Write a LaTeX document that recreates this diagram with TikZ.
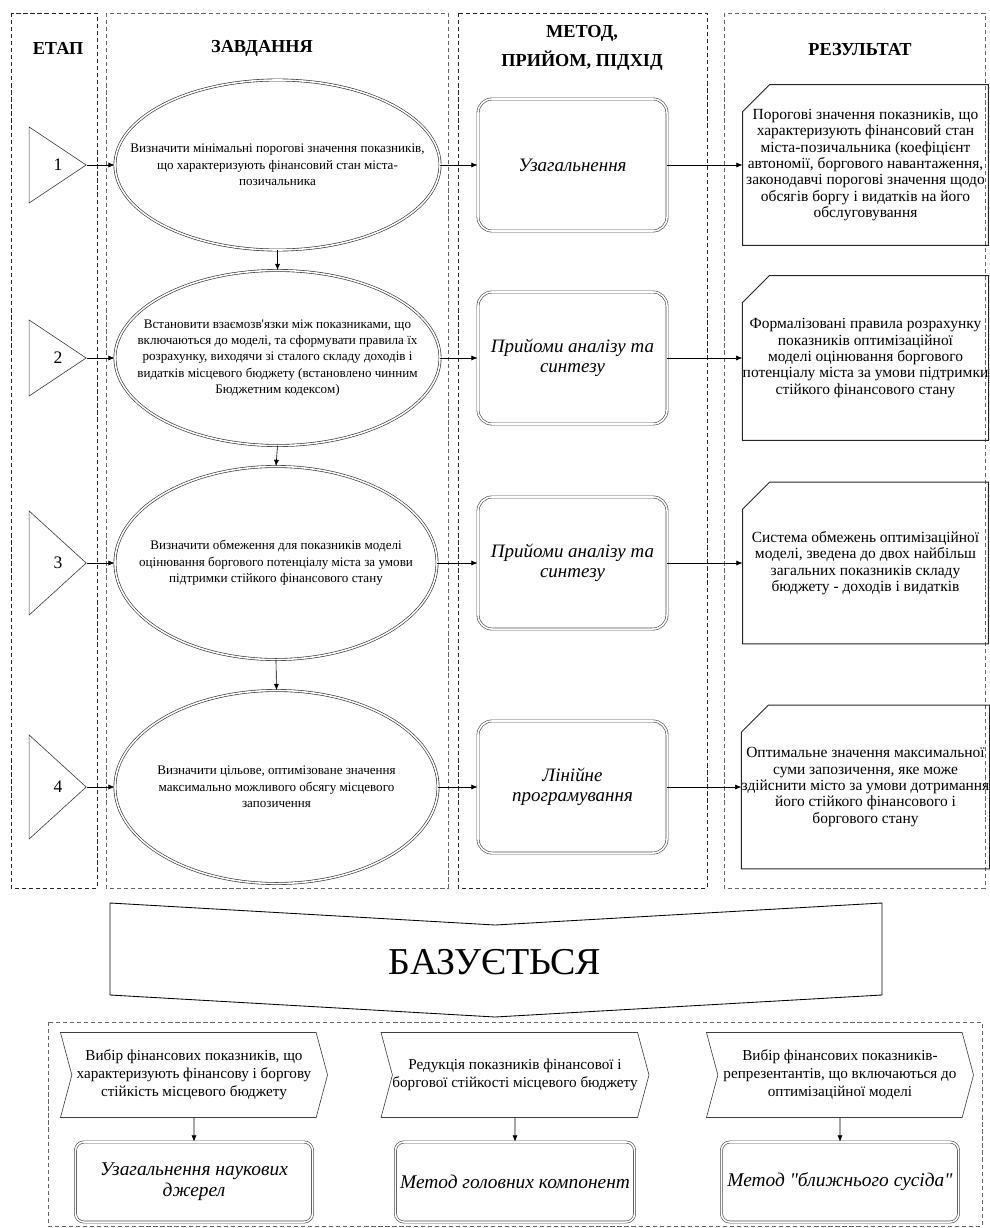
\documentclass[tikz,border=0pt]{standalone}
\usepackage{fontspec}
\setmainfont{Liberation Serif}[Ligatures=TeXOff]
\usetikzlibrary{arrows.meta,shapes.geometric,shapes.symbols}

\begin{document}
\begin{tikzpicture}[x=0.025cm, y=-0.025cm, >={Latex[length=4.5pt,width=3.6pt]}, line width=0.45pt,
  colframe/.style={densely dashed, draw=black!85},
  head/.style={font=\fontsize{13}{20.5}\selectfont\bfseries, align=center},
  stagetri/.style={isosceles triangle, isosceles triangle stretches, draw=black!75, minimum height=1.425cm, inner sep=0pt, anchor=apex},
  stagenum/.style={font=\fontsize{12.5}{14}\selectfont},
  taskell/.style={ellipse, draw=black!80, double, double distance=1.1pt, minimum width=8.125cm, inner sep=0pt},
  tasktxt/.style={align=center, inner sep=0pt, font=\fontsize{9.3}{11.6}\selectfont},
  methbox/.style={draw=black!70, double, double distance=1.1pt, rounded corners=10pt, minimum width=4.725cm, minimum height=3.3cm, align=center, font=\fontsize{13.5}{14.2}\selectfont\itshape},
  resbox/.style={minimum width=6.125cm, inner sep=0pt, align=center, font=\fontsize{11}{11.6}\selectfont},
  resline/.style={draw=black!85, line width=0.6pt},
  basis/.style={signal, signal from=west, signal to=east, signal pointer angle=150, draw=black!75, minimum width=6.675cm, minimum height=2.125cm, inner sep=0pt, align=center, font=\fontsize{10.8}{12.8}\selectfont},
  basismeth/.style={draw=black!70, double, double distance=1.1pt, rounded corners=6pt, minimum width=5.925cm, minimum height=2cm, align=center, font=\fontsize{13.8}{15}\selectfont\itshape}]

\useasboundingbox (0,0) rectangle (990,1228);
\draw[colframe] (11,13) rectangle (97,888);
\draw[colframe, draw=black!60] (106,13) rectangle (448,888);
\draw[colframe] (458,13) rectangle (707,888);
\draw[colframe, draw=black!60] (724,13) rectangle (985,888);

\node[head] (hstage) at (58,48) {ЕТАП};
\node[head] (htask) at (262,48) {ЗАВДАННЯ};
\node[head] (hmeth) at (582,48) {МЕТОД,\\ПРИЙОМ, ПІДХІД};
\node[head] (hres) at (860,50) {РЕЗУЛЬТАТ};

\foreach \i/\y/\h in {1/165/1.9, 2/358/1.9, 3/563/2.6, 4/787/2.6} {
  \node[stagetri, minimum width=\h cm] (s\i) at (87,\y) {};
  \node[stagenum] (s\i n) at (58,\y) {\i};
}

\node[taskell, minimum height=4.25cm] (e1) at (277.5,165) {};
\node[taskell, minimum height=4.375cm] (e2) at (277.5,358) {};
\node[taskell, minimum height=4.825cm, minimum width=8.05cm] (e3) at (276,563) {};
\node[taskell, minimum height=4.825cm, minimum width=8.075cm] (e4) at (276.5,787) {};
\node[tasktxt] (e1t) at (e1) {Визначити мінімальні порогові значення показників,\\що характеризують фінансовий стан міста-\\позичальника};
\node[tasktxt] (e2t) at (e2) {Встановити взаємозв'язки між показниками, що\\включаються до моделі, та сформувати правила їх\\розрахунку, виходячи зі сталого складу доходів і\\видатків місцевого бюджету (встановлено чинним\\Бюджетним кодексом)};
\node[tasktxt] (e3t) at (e3) {Визначити обмеження для показників моделі\\оцінювання боргового потенціалу міста за умови\\підтримки стійкого фінансового стану};
\node[tasktxt] (e4t) at (e4) {Визначити цільове, оптимізоване значення\\максимально можливого обсягу місцевого\\запозичення};

\node[methbox] (m1) at (572.5,165) {Узагальнення};
\node[methbox] (m2) at (572.5,358) {Прийоми аналізу та\\синтезу};
\node[methbox] (m3) at (572.5,563) {Прийоми аналізу та\\синтезу};
\node[methbox] (m4) at (572.5,787) {Лінійне\\програмування};

\node[resbox, minimum height=4cm] (r1) at (865.5,165) {Порогові значення показників, що\\характеризують фінансовий стан\\міста-позичальника (коефіцієнт\\автономії, боргового навантаження,\\законодавчі порогові значення щодо\\обсягів боргу і видатків на його\\обслуговування};
\node[resbox, minimum height=4.1cm] (r2) at (865.5,358) {Формалізовані правила розрахунку\\показників оптимізаційної\\моделі оцінювання боргового\\потенціалу міста за умови підтримки\\стійкого фінансового стану};
\node[resbox, minimum height=4.025cm] (r3) at (865.5,563) {Система обмежень оптимізаційної\\моделі, зведена до двох найбільш\\загальних показників складу\\бюджету - доходів і видатків};
\node[resbox, minimum height=4.075cm] (r4) at (865.5,787) {Оптимальне значення максимальної\\суми запозичення, яке може\\здійснити місто за умови дотримання\\його стійкого фінансового і\\боргового стану};
\foreach \r in {r1,r2,r3,r4}
  \draw[resline] ([yshift=-0.675cm]\r.north west) -- ([xshift=0.675cm]\r.north west) -- (\r.north east) -- (\r.south east) -- (\r.south west) -- cycle;

\draw[->] (s1.apex) -- (e1);\draw[->] (s2.apex) -- (e2);\draw[->] (s3.apex) -- (e3);\draw[->] (s4.apex) -- (e4);
\draw[->] (e1) -- (m1);\draw[->] (e2) -- (m2);\draw[->] (e3) -- (m3);\draw[->] (e4) -- (m4);
\draw[->] (m1) -- (r1);\draw[->] (m2) -- (r2);\draw[->] (m3) -- (r3);\draw[->] (m4) -- (r4);
\draw[->] (e1.south) -- (e2.north);\draw[->] (e2.south) -- (e3.north);\draw[->] (e3.south) -- (e4.north);

\draw[line width=0.6pt] (110,903) -- (495,925) -- (882,903) -- (882,995) -- (495,1017) -- (110,995) -- cycle;
\node[font=\fontsize{27}{30}\selectfont] (baz) at (495,962) {БАЗУЄТЬСЯ};

\draw[colframe, draw=black!60] (48,1022) rectangle (982,1226);
\node[basis] (b1) at (194,1075) {Вибір фінансових показників, що\\характеризують фінансову і боргову\\стійкість місцевого бюджету};
\node[basis] (b2) at (515,1075) {Редукція показників фінансової і\\боргової стійкості місцевого бюджету};
\node[basis] (b3) at (840,1075) {Вибір фінансових показників-\\репрезентантів, що включаються до\\оптимізаційної моделі};
\node[basismeth] (bm1) at (194,1182) {Узагальнення наукових\\джерел};
\node[basismeth] (bm2) at (515,1182) {Метод головних компонент};
\node[basismeth] (bm3) at (840,1182) {Метод "ближнього сусіда"};
\draw[->] (b1) -- (bm1);\draw[->] (b2) -- (bm2);\draw[->] (b3) -- (bm3);
\end{tikzpicture}
\end{document}
